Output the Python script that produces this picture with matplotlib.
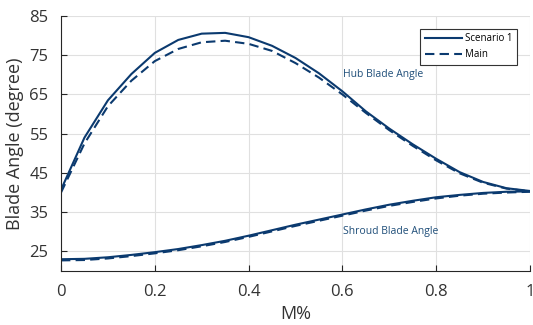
import numpy as np
import matplotlib
matplotlib.use('Agg')
from matplotlib import pyplot as plt

plt.rcParams['font.family'] = ['Open Sans', 'DejaVu Sans']

# M% stations
m_pct = [0.0, 0.05, 0.10, 0.15, 0.20, 0.25, 0.30, 0.35, 0.40, 0.45, 0.50,
         0.55, 0.60, 0.65, 0.70, 0.75, 0.80, 0.85, 0.90, 0.95, 1.0]

hub_scenario1 = [40.7, 54.0, 63.5, 70.2, 75.6, 78.9, 80.5, 80.7, 79.6, 77.4, 74.3,
                 70.4, 65.8, 60.7, 56.3, 52.3, 48.6, 45.2, 42.7, 41.1, 40.4]
hub_main = [40.0, 52.5, 62.0, 68.5, 73.5, 76.6, 78.3, 78.7, 77.9, 76.1, 73.0,
            69.3, 65.0, 60.3, 55.9, 51.9, 48.2, 44.9, 42.5, 41.0, 40.3]

shroud_scenario1 = [23.0, 23.1, 23.5, 24.1, 24.8, 25.6, 26.6, 27.7, 29.0, 30.4, 31.8,
                    33.1, 34.4, 35.7, 36.9, 37.9, 38.8, 39.4, 39.9, 40.2, 40.3]
shroud_main = [22.7, 22.8, 23.2, 23.8, 24.5, 25.3, 26.3, 27.4, 28.7, 30.1, 31.5,
               32.8, 34.1, 35.4, 36.6, 37.6, 38.5, 39.2, 39.7, 40.0, 40.2]

line_color = '#0b3a6f'
text_color = '#333333'
dash = (0, (4.5, 2.5))

fig = plt.figure(figsize=(5.33, 3.25), dpi=100)
ax = fig.add_axes([61/533, 1 - 271/325, 469/533, 255/325])

ax.plot(m_pct, hub_scenario1, color=line_color, lw=1.5, label='Scenario 1')
ax.plot(m_pct, hub_main, color=line_color, lw=1.5, ls=dash, label='Main')
ax.plot(m_pct, shroud_scenario1, color=line_color, lw=1.5)
ax.plot(m_pct, shroud_main, color=line_color, lw=1.5, ls=dash)

ax.text(0.601, 70.2, 'Hub Blade Angle', fontsize=7.5, color='#1f4e79', va='center')
ax.text(0.601, 30.1, 'Shroud Blade Angle', fontsize=7.5, color='#1f4e79', va='center')

ax.set_xlim(0, 1)
ax.set_ylim(20, 85)
ax.set_xticks([0, 0.2, 0.4, 0.6, 0.8, 1])
ax.set_xticklabels(['0', '0.2', '0.4', '0.6', '0.8', '1'])
ax.set_yticks([25, 35, 45, 55, 65, 75, 85])
ax.grid(True, color='#e0e0e0', lw=0.8)
ax.set_axisbelow(True)

for s in ['top', 'right']:
    ax.spines[s].set_visible(False)
for s in ['left', 'bottom']:
    ax.spines[s].set_color('#262626')
    ax.spines[s].set_linewidth(0.8)
ax.tick_params(direction='in', length=4, width=0.8, color='#262626',
               labelsize=12, labelcolor=text_color, pad=9)

ax.set_xlabel('M%', fontsize=13, color=text_color, labelpad=4)
ax.set_ylabel('Blade Angle (degree)', fontsize=13, color=text_color, labelpad=4)

leg = ax.legend(loc='upper right', bbox_to_anchor=(0.983, 0.97), fontsize=7,
                frameon=True, fancybox=False, handlelength=3.8, handletextpad=0.3,
                borderpad=0.5, labelspacing=0.5, framealpha=1)
leg.get_frame().set_edgecolor('#333333')
leg.get_frame().set_linewidth(0.8)

fig.savefig('out.png', dpi=100)
